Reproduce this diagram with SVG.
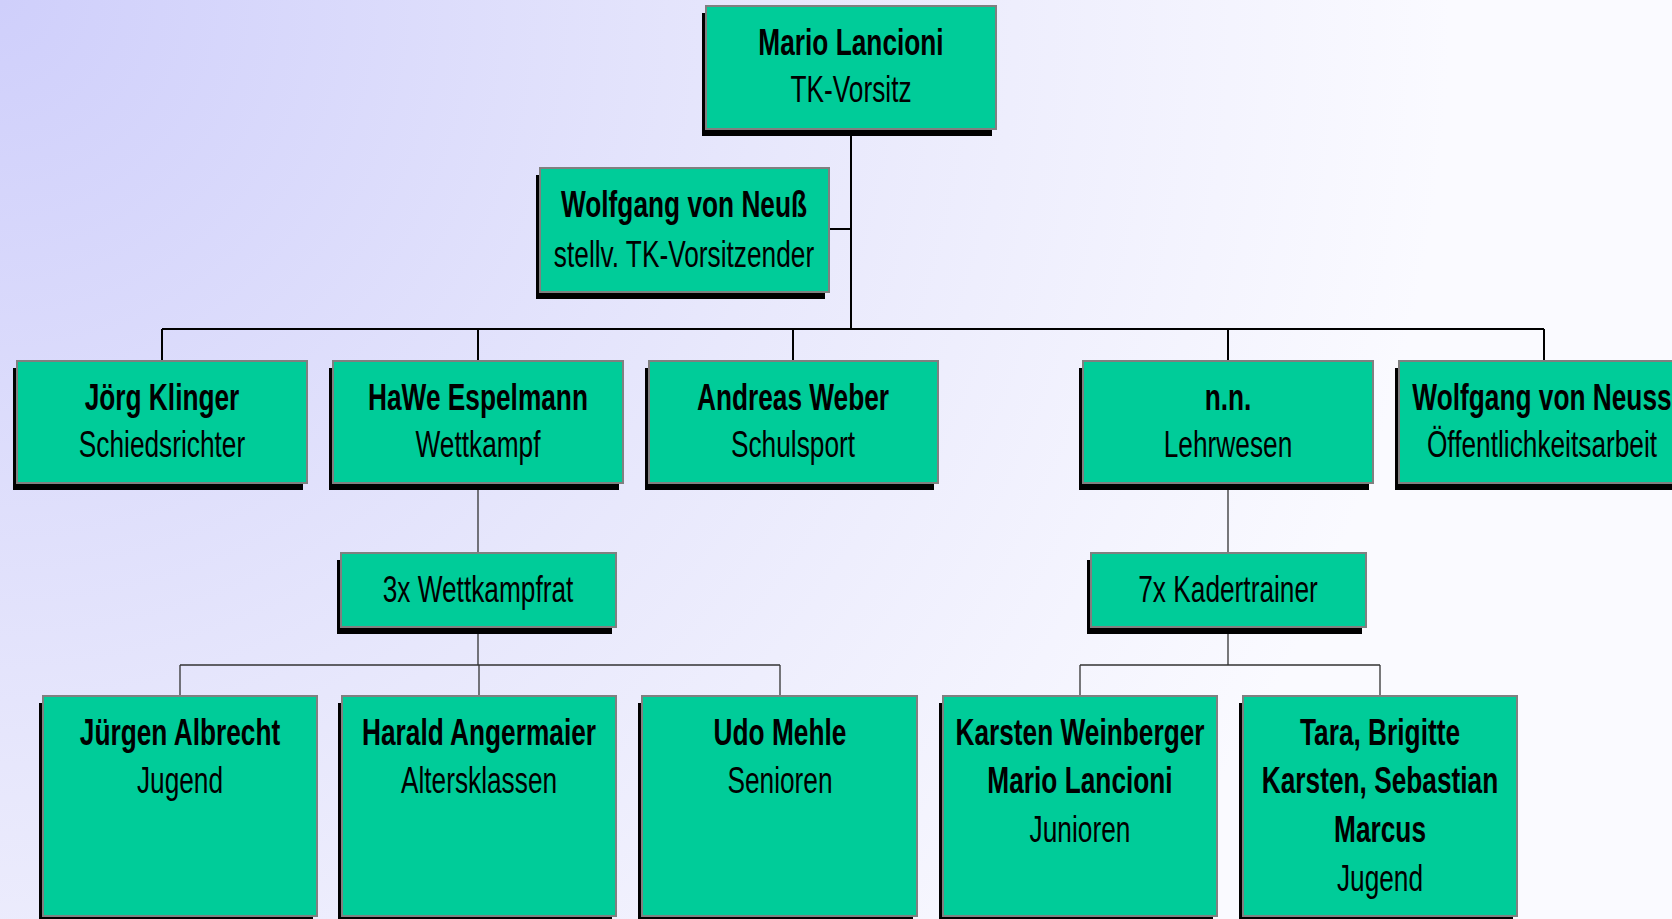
<svg xmlns="http://www.w3.org/2000/svg" width="1672" height="919" viewBox="0 0 1672 919">
<defs>
<radialGradient id="bg" gradientUnits="userSpaceOnUse" cx="0" cy="0" r="1450">
<stop offset="0" stop-color="#cfcffb"/>
<stop offset="0.55" stop-color="#e8e8fc"/>
<stop offset="1" stop-color="#fafaff"/>
</radialGradient>
</defs>
<style>
.sh{fill:#000}
.bx{fill:#00cc99;stroke:#808080;stroke-width:2}
text{font-family:"Liberation Sans",Arial,sans-serif;font-size:37px;text-anchor:middle;fill:#000}
.b{font-weight:bold}
.c1{stroke:#000;stroke-width:2;fill:none}
.c2{stroke:#333;stroke-width:1.3;fill:none}
</style>
<rect width="1672" height="919" fill="url(#bg)"/>
<g id="connectors">
<path class="c1" d="M851 129V329M829 229H851M162 329H1544M162 329V361M478 329V361M793 329V361M1228 329V361M1544 329V361"/>
<path class="c2" d="M478 483V553M478 627V665M180 665H780M180 665V696M479 665V696M780 665V696M1228 483V553M1228 627V665M1080 665H1380M1080 665V696M1380 665V696"/>
</g>
<g id="mario">
<rect class="sh" x="702" y="13" width="290" height="123"/>
<rect class="bx" x="706" y="6" width="290" height="123"/>
<text class="b" transform="translate(851 55) scale(0.71 1)">Mario Lancioni</text>
<text transform="translate(851 102) scale(0.71 1)">TK-Vorsitz</text>
</g>
<g id="wolfgang-stellv">
<rect class="sh" x="536" y="175" width="289" height="124"/>
<rect class="bx" x="540" y="168" width="289" height="124"/>
<text class="b" transform="translate(684 217) scale(0.71 1)">Wolfgang von Neuß</text>
<text transform="translate(684 267) scale(0.71 1)">stellv. TK-Vorsitzender</text>
</g>
<g id="joerg">
<rect class="sh" x="13" y="368" width="290" height="122"/>
<rect class="bx" x="17" y="361" width="290" height="122"/>
<text class="b" transform="translate(162 410) scale(0.71 1)">Jörg Klinger</text>
<text transform="translate(162 457) scale(0.71 1)">Schiedsrichter</text>
</g>
<g id="hawe">
<rect class="sh" x="329" y="368" width="290" height="122"/>
<rect class="bx" x="333" y="361" width="290" height="122"/>
<text class="b" transform="translate(478 410) scale(0.71 1)">HaWe Espelmann</text>
<text transform="translate(478 457) scale(0.71 1)">Wettkampf</text>
</g>
<g id="andreas">
<rect class="sh" x="645" y="368" width="289" height="122"/>
<rect class="bx" x="649" y="361" width="289" height="122"/>
<text class="b" transform="translate(793 410) scale(0.71 1)">Andreas Weber</text>
<text transform="translate(793 457) scale(0.71 1)">Schulsport</text>
</g>
<g id="nn">
<rect class="sh" x="1079" y="368" width="290" height="122"/>
<rect class="bx" x="1083" y="361" width="290" height="122"/>
<text class="b" transform="translate(1228 410) scale(0.71 1)">n.n.</text>
<text transform="translate(1228 457) scale(0.71 1)">Lehrwesen</text>
</g>
<g id="wolfgang-oeff">
<rect class="sh" x="1395" y="368" width="290" height="122"/>
<rect class="bx" x="1399" y="361" width="290" height="122"/>
<text class="b" transform="translate(1542 410) scale(0.71 1)">Wolfgang von Neuss</text>
<text transform="translate(1542 457) scale(0.71 1)">Öffentlichkeitsarbeit</text>
</g>
<g id="wettkampfrat">
<rect class="sh" x="337" y="560" width="275" height="74"/>
<rect class="bx" x="341" y="553" width="275" height="74"/>
<text transform="translate(478 602) scale(0.71 1)">3x Wettkampfrat</text>
</g>
<g id="kadertrainer">
<rect class="sh" x="1087" y="560" width="275" height="74"/>
<rect class="bx" x="1091" y="553" width="275" height="74"/>
<text transform="translate(1228 602) scale(0.71 1)">7x Kadertrainer</text>
</g>
<g id="juergen">
<rect class="sh" x="39" y="703" width="274" height="220"/>
<rect class="bx" x="43" y="696" width="274" height="220"/>
<text class="b" transform="translate(180 745) scale(0.71 1)">Jürgen Albrecht</text>
<text transform="translate(180 793) scale(0.71 1)">Jugend</text>
</g>
<g id="harald">
<rect class="sh" x="338" y="703" width="274" height="220"/>
<rect class="bx" x="342" y="696" width="274" height="220"/>
<text class="b" transform="translate(479 745) scale(0.71 1)">Harald Angermaier</text>
<text transform="translate(479 793) scale(0.71 1)">Altersklassen</text>
</g>
<g id="udo">
<rect class="sh" x="638" y="703" width="275" height="220"/>
<rect class="bx" x="642" y="696" width="275" height="220"/>
<text class="b" transform="translate(780 745) scale(0.71 1)">Udo Mehle</text>
<text transform="translate(780 793) scale(0.71 1)">Senioren</text>
</g>
<g id="karsten">
<rect class="sh" x="939" y="703" width="274" height="220"/>
<rect class="bx" x="943" y="696" width="274" height="220"/>
<text class="b" transform="translate(1080 745) scale(0.71 1)">Karsten Weinberger</text>
<text class="b" transform="translate(1080 793) scale(0.71 1)">Mario Lancioni</text>
<text transform="translate(1080 842) scale(0.71 1)">Junioren</text>
</g>
<g id="tara">
<rect class="sh" x="1239" y="703" width="274" height="220"/>
<rect class="bx" x="1243" y="696" width="274" height="220"/>
<text class="b" transform="translate(1380 745) scale(0.71 1)">Tara, Brigitte</text>
<text class="b" transform="translate(1380 793) scale(0.71 1)">Karsten, Sebastian</text>
<text class="b" transform="translate(1380 842) scale(0.71 1)">Marcus</text>
<text transform="translate(1380 891) scale(0.71 1)">Jugend</text>
</g>
</svg>
